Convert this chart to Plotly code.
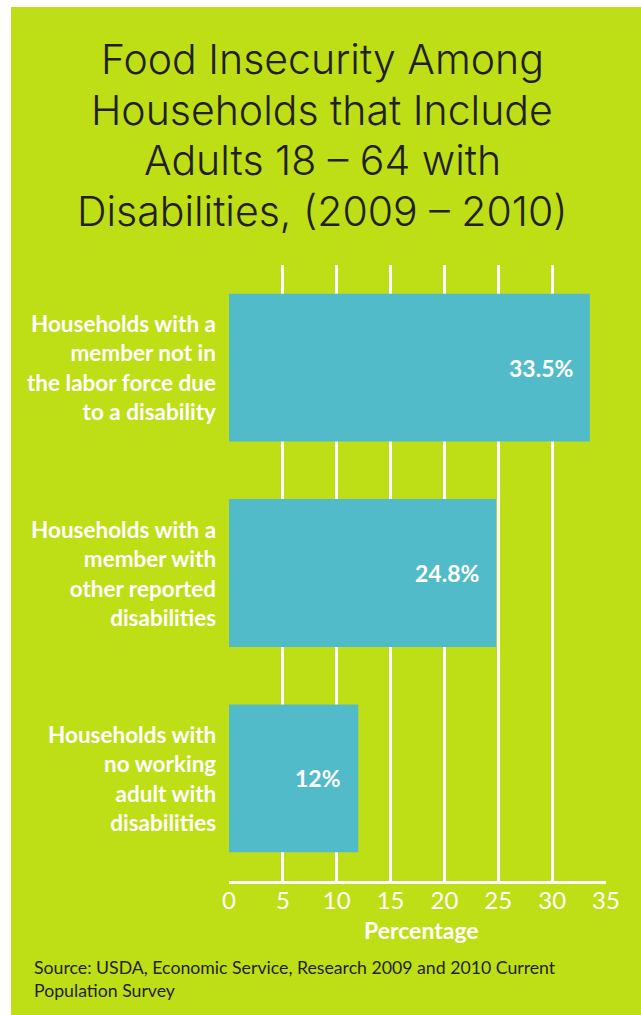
import plotly.graph_objects as go

categories = [
    "Households with a<br>member not in<br>the labor force due<br>to a disability",
    "Households with a<br>member with<br>other reported<br>disabilities",
    "Households with<br>no working<br>adult with<br>disabilities",
]
values = [33.5, 24.8, 12]
value_labels = ["33.5%", "24.8%", "12%"]
tick_vals = [0, 5, 10, 15, 20, 25, 30, 35]
title_lines = [
    "Food Insecurity Among",
    "Households that Include",
    "Adults 18 – 64 with",
    "Disabilities, (2009 – 2010)",
]

GREEN = "#BEDE16"
BAR = "#52BBC9"
DARK = "#231F20"

W, H = 641, 1015
L, R, T, B = 229, 35, 265, 134
pw = W - L - R
ph = H - T - B

def px_x(p):
    return (p - L) / pw

def px_y(p):
    return 1 - (p - T) / ph

fig = go.Figure()
fig.add_trace(go.Bar(
    x=values, y=list(range(len(categories))), orientation="h",
    marker=dict(color=BAR, line=dict(width=0)),
    width=0.72, hoverinfo="skip",
))

for i, (v, lab) in enumerate(zip(values, value_labels)):
    fig.add_annotation(x=v, y=i, text=lab, showarrow=False, xanchor="right",
                       xshift=-15, font=dict(family="Lato", size=23, color="white", weight="bold"))
    fig.add_annotation(x=px_x(218), xref="paper", y=i, yref="y", text=categories[i],
                       showarrow=False, xanchor="right", align="right",
                       font=dict(family="Lato", size=22.5, color="white", weight="bold"))

# title, one annotation per line
for k, line in enumerate(title_lines):
    fig.add_annotation(x=px_x(322), xref="paper", y=px_y(59 + 50.7 * k), yref="paper",
                       text=line, showarrow=False, xanchor="center", yanchor="middle",
                       font=dict(family="Inter", size=41, color=DARK, weight=300))

fig.add_annotation(x=px_x(421), xref="paper", y=px_y(930), yref="paper",
                   text="Percentage", showarrow=False, xanchor="center", yanchor="middle",
                   font=dict(family="Lato", size=23, color="white", weight="bold"))

fig.add_annotation(x=px_x(32), xref="paper", y=px_y(955), yref="paper",
                   text="Source: USDA, Economic Service, Research 2009 and 2010 Current<br>Population Survey",
                   showarrow=False, xanchor="left", yanchor="top", align="left",
                   font=dict(family="Lato", size=17.7, color=DARK))

# white border on the left and top
fig.add_shape(type="rect", xref="paper", yref="paper", x0=px_x(-5), x1=px_x(11),
              y0=px_y(1100), y1=px_y(-5), fillcolor="white", line=dict(width=0), layer="below")
fig.add_shape(type="rect", xref="paper", yref="paper", x0=px_x(-5), x1=px_x(700),
              y0=px_y(7), y1=px_y(-5), fillcolor="white", line=dict(width=0), layer="below")

fig.update_layout(
    width=W, height=H,
    margin=dict(l=L, r=R, t=T, b=B),
    paper_bgcolor=GREEN, plot_bgcolor=GREEN,
    showlegend=False,
    xaxis=dict(range=[0, 35], tickvals=tick_vals, ticktext=[str(t) for t in tick_vals],
               showgrid=True, gridcolor="white", gridwidth=3, zeroline=False,
               showline=True, linecolor="white", linewidth=3, mirror=False,
               tickfont=dict(family="Lato", size=24, color="white"), ticks="", ticklabelstandoff=-4),
    yaxis=dict(range=[2.5, -0.5], showticklabels=False, showgrid=False, zeroline=False,
               showline=False),
)

fig.write_html(
    "out.html",
    config={"displayModeBar": False},
    post_script="document.body.style.margin='0';document.body.style.overflow='hidden';",
)
